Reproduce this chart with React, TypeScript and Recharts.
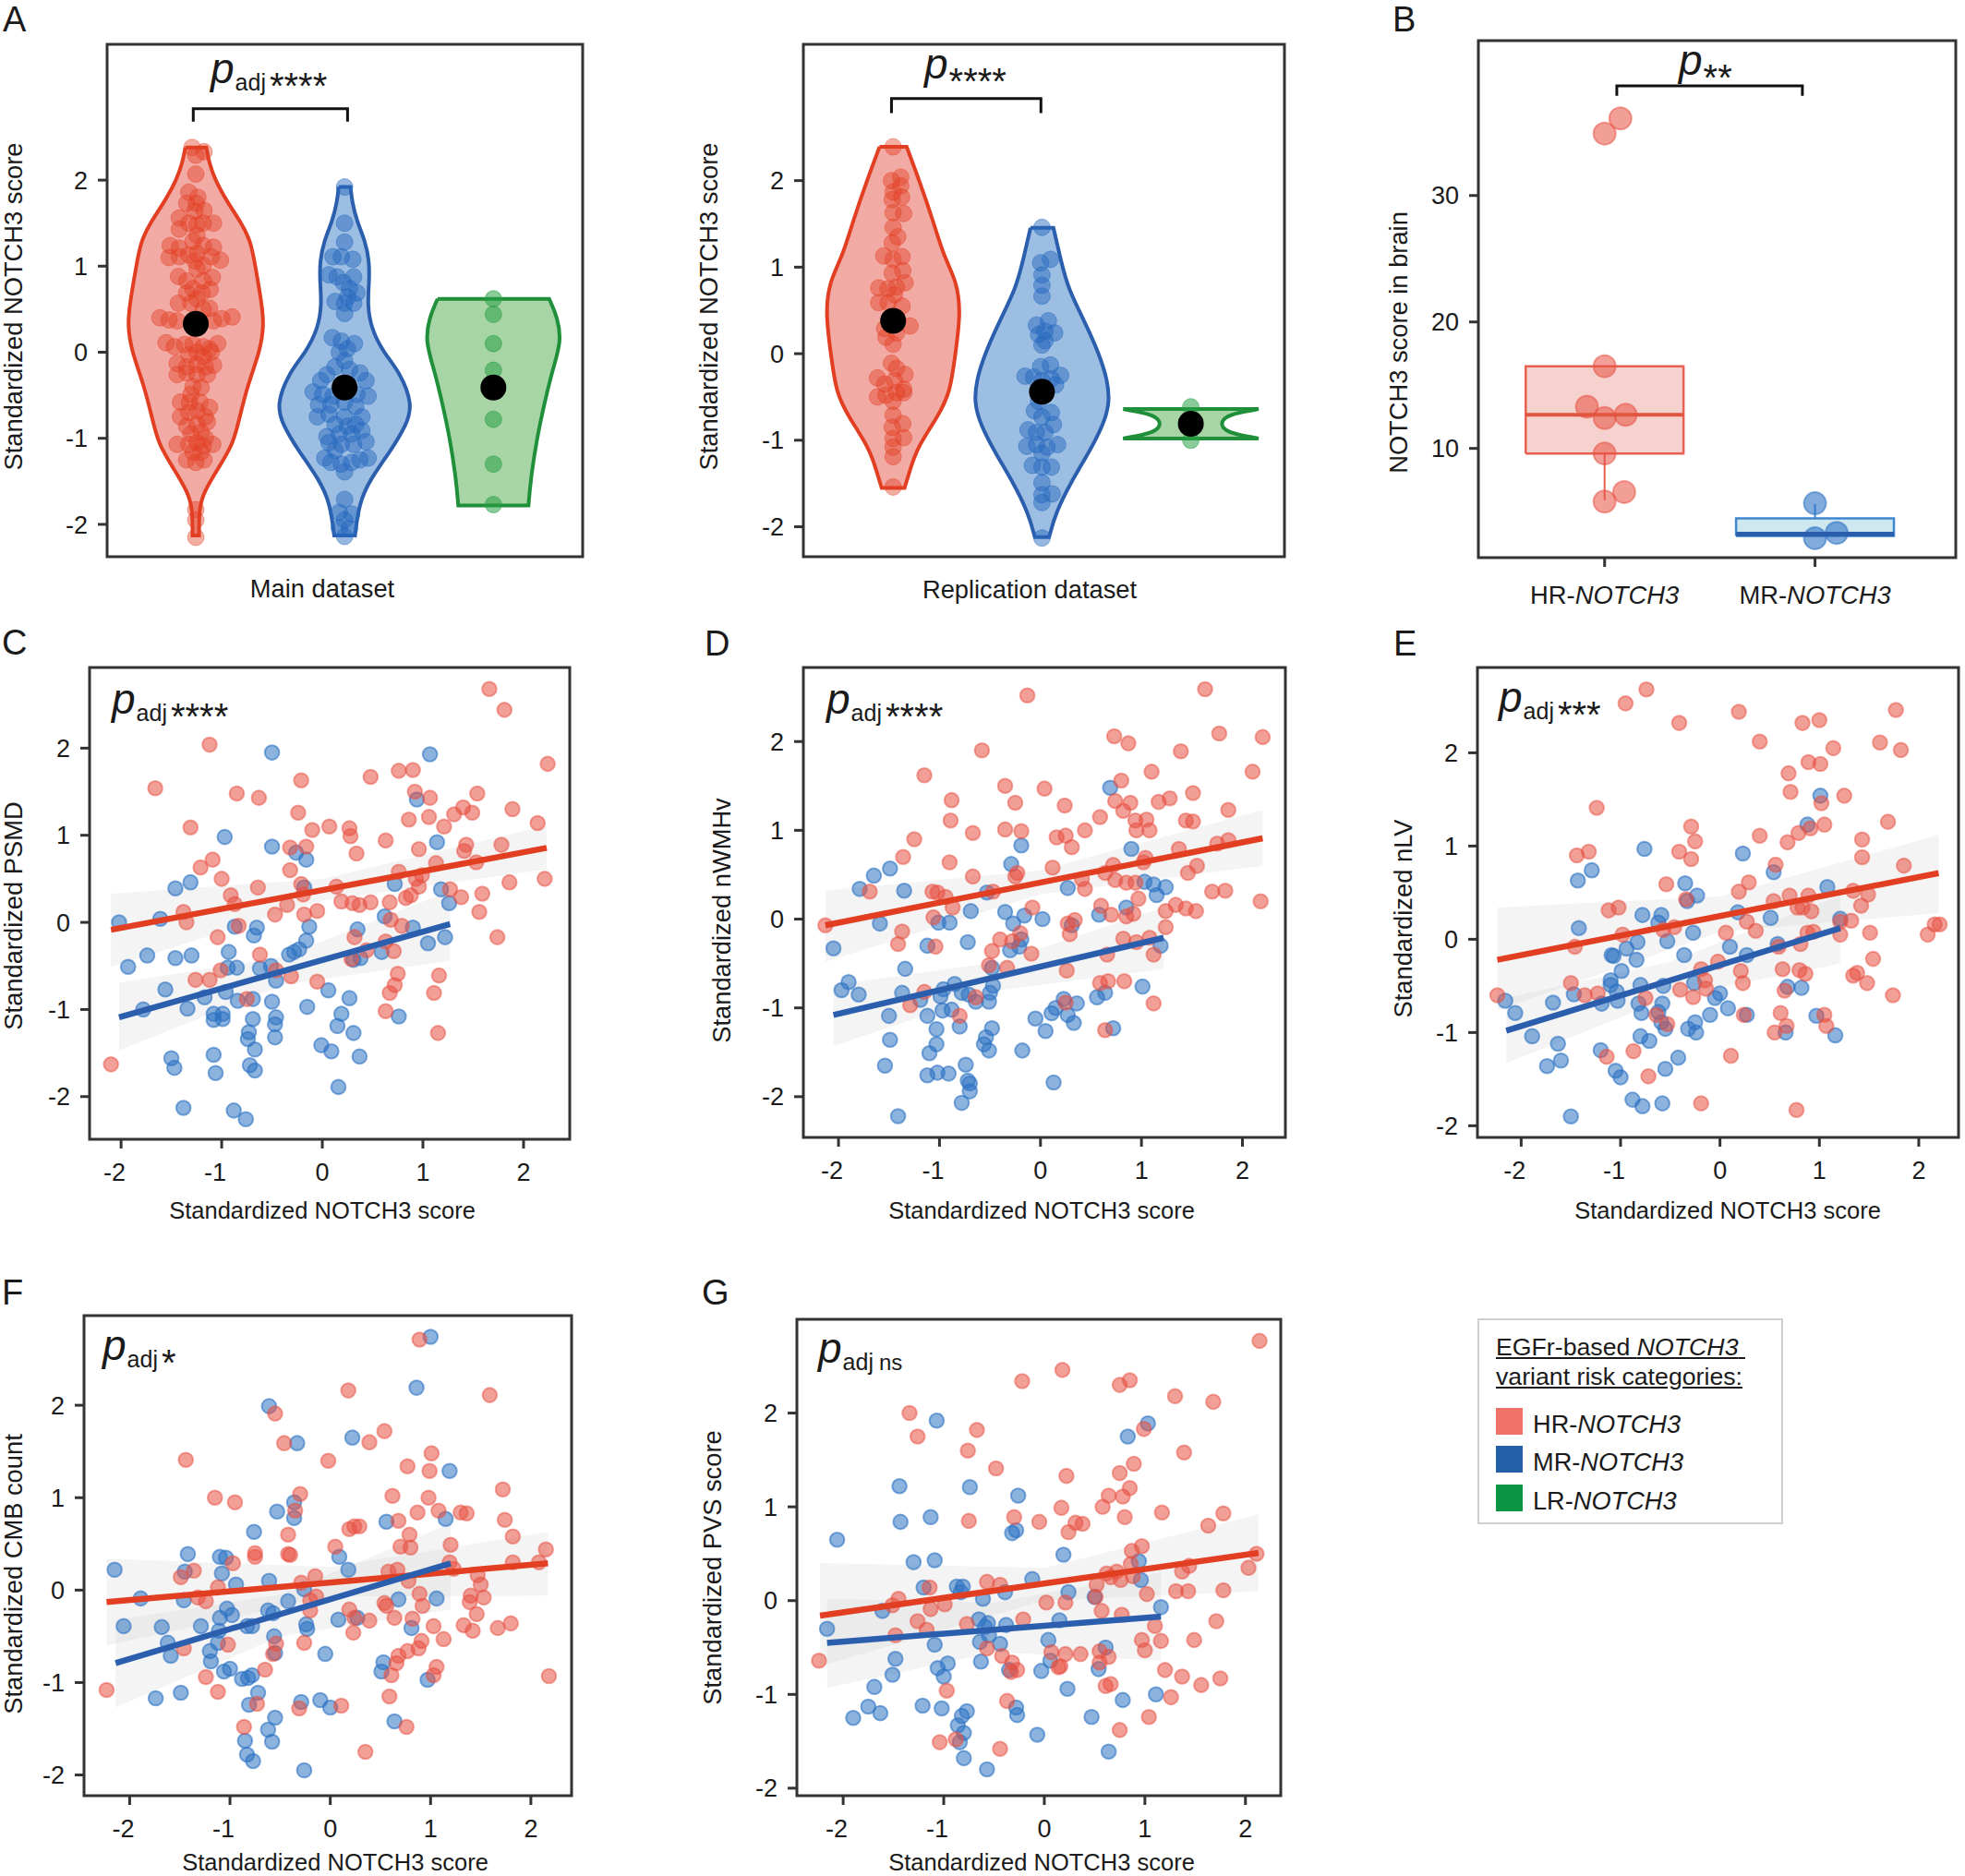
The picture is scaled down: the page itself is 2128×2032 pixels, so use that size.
import React from "react";
import { ScatterChart, Scatter, XAxis, YAxis, ReferenceArea } from "recharts";

type Row = number[];

const FONT = "'Liberation Sans', Arial, sans-serif";
const FRAME = "#333333";
const RED = "#e23e22";
const BLUE = "#2b5fae";
const GREEN = "#1f8f3a";
const AXIS_W = 70;
const AXIS_H = 60;

const zTicks = [-2, -1, 0, 1, 2];
const brainTicks = [10, 20, 30];
const riskCategories = ["HR-", "MR-", "LR-"];
const riskColors = ["#ef7268", "#2460a8", "#0b9444"];
const geneName = "NOTCH3";

// panel A, main dataset: [offset from violin centre, score]
const mainHrDots: Row[] = [
  [-.025,2.38],[.055,2.33],[0,2.29],[0,2.07],[-.047,1.86],[.014,1.8],[-.061,1.73],[.003,1.73],[.055,1.65],[-.006,1.64],
  [-.111,1.56],[.119,1.5],[.05,1.5],[-.111,1.43],[-.047,1.5],[.008,1.48],[.008,1.36],[-.019,1.29],[-.172,1.24],[-.111,1.21],
  [.119,1.22],[.05,1.24],[-.18,1.1],[-.111,1.11],[-.047,1.13],[.008,1.15],[.105,1.11],[.166,1.07],[-.006,1.06],[.05,1.01],
  [.008,.97],[-.117,.88],[.111,.87],[-.061,.83],[.05,.83],[.097,.73],[-.019,.74],[.042,.69],[-.061,.69],[.008,.62],
  [-.117,.57],[-.033,.57],[.092,.51],[.05,.5],[-.241,.4],[-.18,.375],[-.125,.365],[.244,.41],[.175,.39],[.119,.365],
  [-.2,.11],[-.144,.065],[-.075,.09],[-.019,.09],[.05,.065],[.092,.04],[.147,.1],[.008,0],[.05,-.05],[-.047,-.03],
  [.105,0],[-.125,-.13],[-.061,-.17],[.008,-.14],[.064,-.17],[.119,-.15],[-.125,-.26],[-.061,-.24],[.008,-.26],[.078,-.26],
  [.036,-.41],[-.019,-.4],[-.033,-.49],[-.103,-.58],[-.042,-.58],[.028,-.58],[.092,-.64],[-.103,-.75],[-.047,-.7],[.008,-.68],
  [.064,-.75],[-.061,-.86],[.008,-.84],[.078,-.81],[-.033,-.95],[.036,-.93],[.064,-1],[-.125,-1.07],[-.047,-1.07],[.008,-1.05],
  [.114,-1.07],[.05,-1.09],[-.061,-1.25],[0,-1.28],[.055,-1.25],[-.019,-1.16],[.036,-1.16],[0,-1.83],[0,-1.95],[0,-2.15],
];
const mainMrDots: Row[] = [
  [0,1.92],[0,1.5],[0,1.28],[-.078,1.11],[-.022,1.11],[.055,1.08],[-.105,.9],[-.05,.875],[.061,.875],[-.008,.81],
  [.033,.74],[.083,.69],[.019,.64],[-.064,.59],[0,.57],[.061,.57],[0,.45],[-.083,.17],[-.022,.13],[.066,.1],
  [.019,.04],[-.036,0],[0,-.1],[-.064,-.17],[.033,-.2],[.103,-.24],[-.119,-.26],[-.161,-.33],[.144,-.33],[-.211,-.46],
  [-.147,-.49],[-.078,-.51],[.083,-.49],[.158,-.51],[-.175,-.61],[-.092,-.61],[0,-.58],[.075,-.63],[-.183,-.75],[-.105,-.72],
  [0,-.75],[.116,-.75],[-.064,-.84],[.019,-.86],[.075,-.84],[-.119,-.98],[-.036,-.95],[.047,-.95],[.116,-.91],[-.105,-1.05],
  [-.022,-1.07],[.061,-1.07],[.144,-1.04],[-.064,-1.14],[-.133,-1.23],[-.092,-1.28],[-.022,-1.3],[.047,-1.28],[.158,-1.23],[.103,-1.25],
  [0,-1.39],[0,-1.71],[-.036,-1.86],[.047,-1.88],[0,-1.95],[-.036,-2.04],[.033,-2.05],[0,-2.14],
];
const mainLrDots: Row[] = [[0,.62],[0,.44],[0,.1],[0,-.21],[0,-.78],[0,-1.3],[0,-1.77]];
const mainMeans = [0.33, -0.41, -0.41];
const mainHrProfile: Row[] = [[2.38,.07],[2.2,.09],[2,.13],[1.75,.21],[1.52,.3],[1.29,.37],[1,.4],[.6,.44],[.32,.46],[0,.43],[-.37,.35],[-.79,.29],[-1.07,.25],[-1.35,.15],[-1.62,.055],[-1.81,.022],[-2.13,.022]];
const mainMrProfile: Row[] = [[1.92,.04],[1.75,.05],[1.52,.083],[1.29,.139],[1.06,.166],[.83,.166],[.55,.153],[.27,.18],[0,.26],[-.24,.375],[-.61,.458],[-.84,.416],[-1.12,.32],[-1.49,.166],[-1.76,.097],[-2.13,.07]];
const mainLrProfile: Row[] = [[.62,.375],[.41,.43],[.13,.458],[-.19,.4],[-.56,.347],[-1.02,.29],[-1.49,.25],[-1.78,.236]];

// panel A, replication dataset
const replHrDots: Row[] = [
  [0,2.39],[.051,2.04],[-.011,2],[.051,1.94],[0,1.87],[.057,1.81],[-.006,1.78],[0,1.63],[.071,1.62],[0,1.46],
  [.031,1.35],[-.006,1.28],[-.063,1.13],[.06,1.12],[0,1.09],[.065,.96],[-.006,.93],[.08,.82],[-.097,.76],[-.034,.75],
  [.023,.77],[.009,.68],[-.097,.59],[-.034,.59],[.06,.55],[.114,.32],[-.057,.29],[.023,.24],[-.048,.19],[0,.11],
  [-.011,-.11],[.023,-.17],[.08,-.24],[-.105,-.28],[-.057,-.35],[.009,-.31],[.071,-.41],[-.105,-.5],[-.048,-.48],[.023,-.45],
  [.071,-.45],[0,-.55],[0,-.71],[.065,-.81],[-.006,-.85],[.071,-.97],[0,-.98],[0,-1.08],[0,-1.19],[0,-1.54],
];
const replMrDots: Row[] = [
  [0,1.46],[.057,1.09],[-.009,1.05],[0,.91],[0,.79],[0,.665],[.043,.38],[-.037,.33],[.085,.24],[.02,.26],
  [-.023,.22],[.02,.15],[0,.1],[.057,-.13],[-.009,-.15],[.125,-.25],[-.114,-.26],[-.057,-.27],[.063,-.29],[0,-.31],
  [.091,-.36],[-.023,-.55],[-.051,-.66],[.063,-.68],[0,-.73],[-.094,-.88],[.077,-.82],[-.037,-.91],[.02,-.91],[-.102,-1.07],
  [.105,-1.05],[-.037,-1.05],[.034,-1.08],[0,-1.15],[-.065,-1.29],[.063,-1.31],[0,-1.31],[0,-1.49],[.068,-1.62],[0,-1.63],
  [0,-1.72],[0,-2.13],
];
const replLrDots: Row[] = [[0,-.615],[0,-1]];
const replMeans = [0.38, -0.44, -0.81];
const replHrProfile: Row[] = [[2.39,.091],[2,.176],[1.53,.27],[1.12,.341],[.84,.427],[.47,.455],[0,.418],[-.45,.384],[-.73,.299],[-1.1,.156],[-1.38,.108],[-1.55,.077]];
const replMrProfile: Row[] = [[1.455,.077],[1.07,.128],[.75,.176],[.38,.284],[0,.384],[-.31,.441],[-.57,.455],[-.82,.413],[-1.15,.313],[-1.47,.199],[-1.84,.091],[-2.12,.048]];
const replLrProfile: Row[] = [[-.64,.455],[-.68,.32],[-.73,.23],[-.81,.2],[-.89,.23],[-.94,.32],[-.98,.455]];

// panel B
const brainHrDots: Row[] = [[1.075,36.1],[1,34.9],[1,16.5],[.916,13.3],[1,12.4],[1.1,12.66],[1,9.6],[1.093,6.55],[1,5.8]];
const brainMrDots: Row[] = [[2,5.66],[2.103,3.32],[2,2.9]];
const brainHrBox = { q1: 9.6, median: 12.66, q3: 16.5, low: 5.9, high: 9.6 };
const brainMrBox = { q1: 3.07, median: 3.23, q3: 4.46, low: 4.46, high: 5.6 };

// panel C
const psmdHr: Row[] = [
  [1.66,2.68],[1.81,2.44],[-1.12,2.04],[2.24,1.82],[-1.66,1.54],[.48,1.67],[.76,1.74],[.9,1.75],[-.21,1.63],[-.85,1.48],
  [-.63,1.43],[.92,1.5],[1.07,1.43],[1.54,1.48],[-.24,1.26],[1.4,1.32],[1.49,1.26],[1.89,1.3],[.86,1.18],[1.06,1.21],
  [1.31,1.24],[1.21,1.1],[2.14,1.14],[-1.31,1.09],[-.1,1.06],[.07,1.1],[.27,1.08],[.28,.99],[.63,.94],[-.32,.86],
  [-.16,.87],[.34,.79],[.96,.84],[1.43,.89],[1.41,.82],[1.78,.89],[-1.09,.72],[-1.21,.63],[-.32,.6],[1.13,.68],
  [1.53,.69],[.76,.58],[-1,.5],[.99,.54],[.93,.5],[1.86,.46],[2.21,.5],[-.64,.4],[-.21,.44],[.14,.41],
  [.96,.41],[1.27,.38],[1.59,.33],[-.91,.31],[-.19,.32],[1.38,.29],[.83,.28],[.88,.31],[.19,.24],[.3,.22],
  [.37,.2],[.48,.23],[.67,.23],[-.87,.21],[-.35,.2],[-1.38,.12],[-.47,.09],[-.18,.09],[-.05,.13],[1.56,.12],
  [-1.35,0],[.68,.03],[.79,-.04],[-.83,-.04],[1.74,-.17],[-1.04,-.17],[.32,-.17],[.63,-.22],[-.62,-.37],[.71,-.33],
  [.44,-.32],[.29,-.42],[-1.01,-.55],[-.46,-.55],[-1.26,-.66],[-1.12,-.66],[-.31,-.62],[-.05,-.68],[.75,-.59],[.72,-.72],
  [.67,-.81],[1.16,-.61],[1.11,-.81],[-.75,-.88],[.63,-1.02],[1.15,-1.27],[-2.1,-1.63],
];
const psmdMr: Row[] = [
  [-.5,1.95],[1.07,1.93],[.94,1.41],[-.97,.98],[-.5,.87],[1.14,.92],[-.26,.8],[-.16,.72],[-1.46,.39],[-1.31,.46],
  [-.18,.4],[.72,.44],[1.18,.38],[1.26,.22],[-2.02,0],[-1.61,.04],[-.87,-.05],[-.65,-.06],[-.68,-.15],[-.13,-.05],
  [-.16,-.21],[.35,-.08],[.62,.07],[.9,-.06],[1.05,-.24],[1.22,-.17],[-.23,-.31],[-.28,-.34],[-.33,-.37],[-.93,-.34],
  [.59,-.34],[.38,-.41],[.31,-.43],[-1.74,-.38],[-1.93,-.51],[-1.46,-.41],[-1.3,-.38],[-.94,-.52],[-.85,-.52],[-.62,-.53],
  [-.51,-.5],[-.46,-.67],[-1.56,-.77],[-.96,-.8],[-1.17,-.86],[-.84,-.9],[-.69,-.88],[-.5,-.91],[.06,-.78],[.27,-.87],
  [-1.78,-1],[-1.34,-.99],[-.15,-.97],[.19,-1.05],[.76,-1.08],[-1.08,-1.05],[-.99,-1.05],[-1.08,-1.12],[-.99,-1.11],[-.69,-1.11],
  [-.46,-1.09],[-.47,-1.17],[.15,-1.19],[-.73,-1.26],[.31,-1.27],[-.74,-1.34],[-.47,-1.32],[-.67,-1.46],[-.01,-1.41],[.09,-1.48],
  [-1.08,-1.52],[.37,-1.54],[-1.5,-1.56],[-1.47,-1.67],[-1.06,-1.73],[-.72,-1.64],[-.67,-1.7],[.16,-1.89],[-1.38,-2.13],[-.88,-2.16],
  [-.76,-2.26],
];
const psmdHrFit: Row[] = [[-2.1,-.085],[2.23,.855]];
const psmdMrFit: Row[] = [[-2.02,-1.09],[1.27,-.02]];
const psmdHrBand: Row[] = [[-2.1,-.51,.33],[0,.25,.5],[2.23,.61,1.11]];
const psmdMrBand: Row[] = [[-2.02,-1.47,-.69],[-.4,-.72,-.4],[1.27,-.44,.36]];

// panel D
const wmhHr: Row[] = [
  [1.63,2.59],[-.13,2.52],[.73,2.06],[.87,1.98],[1.77,2.09],[2.2,2.05],[-.58,1.9],[1.39,1.89],[-1.15,1.62],[1.1,1.66],
  [2.1,1.66],[.8,1.56],[-.35,1.5],[.04,1.47],[1.51,1.42],[-.88,1.34],[-.25,1.31],[.24,1.28],[.74,1.33],[.89,1.31],
  [1.17,1.32],[1.28,1.36],[.82,1.22],[1.86,1.23],[.59,1.15],[-.89,1.11],[.94,1.11],[1.05,1.12],[1.44,1.11],[1.51,1.1],
  [-.35,1.01],[-.19,.99],[-.67,.97],[.44,1],[.95,1],[1.08,1],[.16,.92],[.25,.94],[.31,.81],[-1.25,.9],
  [1.37,.79],[1.75,.85],[1.86,.89],[-1.36,.7],[1.04,.69],[1.02,.64],[-.9,.64],[.72,.61],[1.55,.6],[.12,.58],
  [-.23,.52],[-.25,.48],[.64,.52],[1.46,.52],[-.67,.48],[.41,.45],[.74,.44],[.85,.41],[.94,.41],[.44,.34],
  [-1.69,.31],[-1.07,.31],[-1.02,.3],[-.47,.31],[1.7,.31],[1.83,.32],[-.94,.25],[.97,.23],[2.18,.2],[-.87,.13],
  [-.08,.13],[.6,.15],[1.34,.16],[1.44,.12],[1.54,.09],[1.24,.09],[.7,.05],[.85,.03],[.92,.06],[-1.06,.02],
  [.34,-.01],[.27,-.05],[-2.13,-.07],[1.24,-.09],[.29,-.17],[-1.37,-.14],[-.4,-.23],[-.2,-.16],[-.28,-.25],[.82,-.22],
  [.95,-.26],[1.08,-.21],[-1.41,-.28],[-1.04,-.31],[-.48,-.36],[-.09,-.39],[.66,-.4],[1.12,-.4],[-.51,-.52],[-.33,-.55],
  [.26,-.58],[.59,-.72],[.67,-.7],[.83,-.7],[-1.15,-.82],[-.64,-.88],[-1.29,-.97],[.25,-.94],[1.12,-.95],[-.8,-1.09],
  [.64,-1.25],
];
const wmhMr: Row[] = [
  [.69,1.48],[-.19,.83],[.9,.79],[-1.49,.57],[-.29,.62],[-1.65,.49],[-1.79,.34],[-1.35,.32],[-.53,.3],[.27,.35],
  [1.03,.42],[1.12,.39],[1.24,.36],[1.15,.27],[-.69,.09],[-.35,.08],[-.16,.04],[.02,0],[.58,.05],[.85,.13],
  [-1.59,-.05],[-1.01,-.04],[-.9,-.04],[-.27,-.05],[.31,-.07],[-2.05,-.33],[-1.12,-.3],[-.72,-.26],[-.19,-.23],[-.21,-.31],
  [-.3,-.35],[1.19,-.3],[-1.34,-.56],[-.48,-.55],[-1.9,-.71],[-1.97,-.8],[-1.8,-.85],[-1.37,-.83],[-.85,-.73],[-.96,-.79],
  [-.99,-.87],[-.78,-.83],[-.71,-.85],[-.47,-.75],[-.5,-.83],[-.51,-.93],[-1.19,-.91],[-.64,-.93],[.23,-.9],[.36,-.95],
  [.15,-1],[.11,-1.06],[1.01,-.76],[.64,-.83],[.56,-.88],[-1.5,-1.09],[-1.12,-1.09],[-.97,-1.03],[-.88,-1.02],[.27,-1.08],
  [-.05,-1.12],[.33,-1.17],[-.8,-1.21],[-1.03,-1.24],[-.48,-1.23],[.05,-1.26],[.72,-1.23],[-.54,-1.33],[-1.49,-1.36],[-.56,-1.41],
  [-1.03,-1.41],[-1.1,-1.51],[-.51,-1.48],[-.18,-1.48],[-1.54,-1.65],[-.74,-1.64],[-1.12,-1.76],[-1.02,-1.73],[-.91,-1.74],[-.72,-1.82],
  [-.7,-1.85],[-.7,-1.94],[.13,-1.84],[-.78,-2.07],[-1.41,-2.22],
];
const wmhHrFit: Row[] = [[-2.13,-.07],[2.2,.91]];
const wmhMrFit: Row[] = [[-2.05,-1.08],[1.22,-.21]];
const wmhHrBand: Row[] = [[-2.13,-.48,.32],[0,.28,.55],[2.2,.6,1.23]];
const wmhMrBand: Row[] = [[-2.05,-1.43,-.74],[-.4,-.8,-.48],[1.22,-.56,.13]];

// panel E
const lvHr: Row[] = [
  [-.74,2.68],[-.95,2.53],[-.41,2.32],[.19,2.44],[.83,2.32],[1,2.35],[1.77,2.46],[.4,2.12],[1.14,2.05],[1.61,2.11],
  [1.82,2.03],[.89,1.9],[1.01,1.88],[.69,1.78],[.71,1.58],[1.25,1.54],[-1.24,1.41],[1.02,1.46],[1.69,1.26],[-.29,1.21],
  [.4,1.11],[1.05,1.23],[.91,1.19],[.79,1.14],[.68,1.04],[-.25,1.05],[1.43,1.07],[-1.32,.94],[-1.44,.9],[-.41,.94],
  [-.29,.86],[1.43,.88],[.56,.8],[1.85,.79],[-.54,.59],[.29,.61],[.19,.51],[1.34,.52],[1.49,.48],[-.34,.43],
  [.54,.41],[.7,.47],[.89,.47],[.78,.34],[.83,.34],[.92,.3],[1.42,.36],[-1.12,.31],[-1.02,.34],[.27,.19],
  [.36,.09],[1.32,.2],[-.46,.13],[-.57,.1],[-.98,.05],[.06,.07],[1.21,.05],[.88,.07],[.94,.08],[1.51,.07],
  [2.09,.05],[2.16,.16],[2.21,.16],[-1.46,-.08],[.59,-.08],[.81,-.05],[1.21,.19],[1.54,-.21],[-.02,-.24],[-.19,-.32],
  [.63,-.32],[.21,-.34],[.8,-.33],[.86,-.37],[-.15,-.44],[1.34,-.39],[1.38,-.36],[.23,-.47],[-1.5,-.47],[1.48,-.47],
  [-.4,-.54],[-.14,-.53],[.65,-.55],[-1.36,-.6],[-1.23,-.58],[-2.24,-.6],[-.27,-.62],[-.75,-.63],[1.74,-.6],[-.64,-.81],
  [.24,-.81],[.61,-.79],[1.05,-.81],[-.53,-.91],[.67,-.93],[.55,-1],[1.07,-.93],[-.87,-1.2],[.11,-1.25],[-1.14,-1.26],
  [-.72,-1.47],[-.19,-1.76],[.77,-1.83],
];
const lvMr: Row[] = [
  [1.01,1.54],[.88,1.23],[-.76,.97],[.23,.92],[-1.29,.74],[-1.43,.63],[.54,.72],[-.35,.6],[1.08,.56],[-.23,.47],
  [-.33,.41],[-.78,.26],[-.59,.26],[-.62,.18],[.18,.29],[.51,.23],[1.21,.22],[-1.42,.12],[-.27,.07],[-.83,-.03],
  [-.53,-.02],[-.94,-.1],[-1.09,-.17],[-1.07,-.18],[-.84,-.22],[-.36,-.17],[.1,-.08],[.27,-.17],[.58,-.05],[-.99,-.34],
  [-1.1,-.44],[-1.1,-.49],[-.8,-.49],[-.57,-.5],[-.26,-.47],[.68,-.51],[.82,-.52],[-1.47,-.59],[-1.04,-.56],[-1.03,-.66],
  [-1.19,-.69],[-1.68,-.68],[-2.16,-.66],[-2.06,-.79],[-.82,-.69],[-.58,-.69],[-.62,-.78],[-.79,-.79],[0,-.58],[-.05,-.63],
  [.08,-.74],[-.1,-.81],[.27,-.81],[.97,-.82],[-.59,-.89],[-.55,-.96],[-.32,-.96],[-.25,-.89],[-.24,-1],[.66,-1],
  [1.16,-1.03],[-1.89,-1.04],[-.8,-1.04],[-.71,-1.09],[-1.63,-1.12],[-1.2,-1.19],[-1.6,-1.3],[-1.74,-1.36],[-.42,-1.27],[-1.05,-1.41],
  [-1,-1.48],[-.55,-1.39],[-.88,-1.72],[-.78,-1.79],[-.58,-1.76],[-1.5,-1.9],
];
const lvHrFit: Row[] = [[-2.24,-.22],[2.2,.71]];
const lvMrFit: Row[] = [[-2.15,-.98],[1.21,.12]];
const lvHrBand: Row[] = [[-2.24,-.76,.34],[0,.08,.46],[2.2,.28,1.12]];
const lvMrBand: Row[] = [[-2.15,-1.33,-.63],[-.5,-.62,-.24],[1.21,-.26,.47]];

// panel F
const cmbHr: Row[] = [
  [.89,2.71],[.18,2.16],[1.59,2.11],[-.55,1.91],[.54,1.72],[.39,1.6],[-.46,1.59],[1.01,1.48],[-1.44,1.41],[-.02,1.4],
  [.77,1.34],[.99,1.29],[1.72,1.09],[-.3,1.04],[.62,1.02],[-1.15,1],[.98,1],[-.95,.95],[.87,.84],[1.08,.86],
  [-.35,.86],[1.3,.84],[1.36,.83],[1.74,.76],[.68,.75],[.19,.66],[.24,.69],[.29,.69],[-.42,.6],[.79,.6],
  [1.82,.58],[.05,.47],[.7,.47],[.8,.46],[1.2,.49],[2.15,.44],[-.75,.4],[-.75,.36],[-.42,.39],[-.4,.38],
  [-.97,.29],[1.19,.3],[1.82,.3],[2.08,.3],[1.23,.23],[.58,.2],[.67,.22],[-1.36,.21],[-1.49,.14],[-.29,.08],
  [-.15,.15],[-1.12,.03],[1.47,.16],[1.5,.06],[.78,.1],[-1.32,-.08],[-1.24,-.12],[-.14,-.07],[-.2,-.11],[.89,-.04],
  [1.4,-.06],[1.53,-.08],[.54,-.14],[.56,-.17],[1.39,-.13],[.92,-.17],[-.2,-.22],[.19,-.21],[.24,-.3],[.39,-.33],
  [.64,-.3],[.82,-.31],[1.46,-.26],[1.33,-.38],[1.42,-.44],[1.8,-.36],[1.67,-.41],[1.03,-.39],[.23,-.46],[1.13,-.53],
  [.91,-.55],[-.26,-.57],[-.54,-.58],[-1.02,-.59],[-1.46,-.63],[.88,-.63],[.77,-.66],[.68,-.71],[.66,-.79],[-.57,-.69],
  [-.65,-.86],[1.06,-.83],[1.03,-.92],[.61,-.92],[-1.24,-.94],[2.18,-.93],[-2.23,-1.08],[-1.12,-1.1],[.59,-1.15],[-.73,-1.23],
  [.11,-1.25],[-.31,-1.28],[-.86,-1.48],[.76,-1.48],[.35,-1.75],
];
const cmbMr: Row[] = [
  [1,2.74],[.86,2.19],[-.61,1.99],[.22,1.65],[-.33,1.59],[1.19,1.29],[-.36,.95],[-.53,.85],[-.36,.78],[.56,.74],
  [1.15,.77],[-.76,.63],[-1.42,.39],[-1.1,.36],[-1.04,.35],[.09,.36],[-2.15,.22],[-1.45,.2],[-1.08,.18],[.18,.22],
  [-.94,.06],[-.61,.1],[-.26,.01],[-1.89,-.09],[-1.46,-.11],[-.42,-.12],[.68,-.1],[1.06,-.09],[-1.03,-.2],[-.98,-.27],
  [-1.1,-.3],[-.62,-.22],[-.57,-.25],[.08,-.32],[.27,-.3],[-2.06,-.39],[-1.68,-.4],[-1.29,-.39],[-1.11,-.44],[-.83,-.39],
  [-.78,-.39],[-.24,-.37],[-.23,-.42],[.81,-.41],[-.56,-.5],[-1.62,-.57],[-1.12,-.57],[-1.59,-.71],[-1.2,-.66],[-.55,-.68],
  [-.05,-.69],[-1.19,-.77],[.53,-.78],[.51,-.88],[-1,-.85],[-1.06,-.88],[-.88,-.96],[-.82,-.95],[-.78,-.92],[.97,-.97],
  [-1.49,-1.11],[-1.74,-1.17],[-.72,-1.11],[-.81,-1.24],[-.29,-1.21],[-.1,-1.19],[0,-1.27],[-.55,-1.38],[-.62,-1.51],[.64,-1.42],
  [-.85,-1.63],[-.58,-1.64],[-.83,-1.78],[-.77,-1.85],[-.26,-1.95],
];
const cmbHrFit: Row[] = [[-2.23,-.13],[2.17,.29]];
const cmbMrFit: Row[] = [[-2.14,-.79],[1.2,.29]];
const cmbHrBand: Row[] = [[-2.23,-.6,.34],[0,-.07,.25],[2.17,-.06,.63]];
const cmbMrBand: Row[] = [[-2.14,-1.27,-.32],[-.5,-.5,-.05],[1.2,-.21,.72]];

// panel G
const pvsHr: Row[] = [
  [2.14,2.77],[.18,2.46],[-.22,2.34],[.75,2.3],[.85,2.35],[1.3,2.18],[1.68,2.12],[-1.34,2],[-1.26,1.75],[-.67,1.82],
  [.99,1.83],[-.76,1.6],[1.39,1.58],[.89,1.46],[-.48,1.41],[.22,1.33],[.75,1.36],[.85,1.2],[.64,1.12],[.78,1.11],
  [.58,1],[.17,.99],[1.17,.94],[1.78,.93],[-.3,.89],[.8,.89],[-.75,.85],[-.05,.84],[.31,.83],[.38,.82],
  [1.63,.8],[.24,.73],[.97,.58],[.87,.53],[2.11,.5],[2.03,.35],[.86,.39],[1.44,.37],[1.37,.31],[.62,.29],
  [.72,.31],[.66,.25],[.76,.22],[.88,.26],[-1.14,.14],[-.57,.2],[-.44,.17],[.52,.17],[1.02,.07],[1.31,.1],
  [1.43,.1],[1.78,.11],[-1.45,.02],[-1.51,-.05],[-1.13,-.09],[-.99,-.04],[.02,-.02],[.21,-.02],[.51,.04],[.57,-.11],
  [.77,-.15],[-1.26,-.22],[-1.17,-.31],[-.77,-.25],[-.21,-.2],[1.1,-.27],[1.71,-.22],[-1.48,-.37],[.97,-.42],[1.16,-.43],
  [1.49,-.42],[-.57,-.51],[1,-.53],[-.42,-.59],[.07,-.55],[.21,-.57],[.36,-.57],[.55,-.54],[.64,-.6],[.55,-.66],
  [-2.24,-.64],[-.32,-.66],[-.27,-.74],[-.33,-.76],[.16,-.7],[.14,-.71],[1.2,-.74],[1.37,-.81],[1.75,-.83],[1.56,-.9],
  [.61,-.91],[.66,-.89],[-.97,-.96],[1.26,-1.03],[-.37,-1.07],[1.04,-1.24],[.75,-1.38],[-1.04,-1.51],[-.88,-1.48],[-.44,-1.58],
];
const pvsMr: Row[] = [
  [-1.07,1.92],[1.03,1.89],[.83,1.75],[-1.44,1.22],[-.74,1.21],[-.26,1.12],[-1.43,.84],[-1.13,.89],[-.28,.75],[-.32,.72],
  [-2.06,.65],[.19,.49],[-1.09,.43],[-1.3,.41],[.94,.42],[.96,.22],[-.12,.23],[-1.2,.14],[-.87,.15],[-.81,.15],
  [-.83,.09],[-.39,.09],[-.61,.02],[.24,.09],[.5,.04],[-1.61,-.11],[1.16,-.07],[-.65,-.2],[-.56,-.24],[-.38,-.26],
  [.15,-.21],[-2.16,-.3],[-.59,-.28],[-.55,-.37],[-1.09,-.47],[-.64,-.44],[-.44,-.46],[.04,-.42],[.61,-.5],[-1.48,-.62],
  [-.96,-.67],[-1.06,-.72],[-1,-.81],[-.63,-.65],[-.35,-.74],[-.03,-.75],[.06,-.64],[.54,-.73],[-1.51,-.79],[-1.69,-.92],
  [.23,-.94],[1.11,-1],[.78,-1.06],[-1.75,-1.13],[-1.63,-1.2],[-1.21,-1.12],[-1.02,-1.15],[-1.9,-1.25],[-.28,-1.14],[-.27,-1.22],
  [-.77,-1.18],[-.82,-1.23],[.47,-1.24],[-.86,-1.33],[-.8,-1.41],[-.07,-1.43],[-.84,-1.51],[-.8,-1.68],[.64,-1.61],[-.57,-1.8],
];
const pvsHrFit: Row[] = [[-2.23,-.16],[2.13,.51]];
const pvsMrFit: Row[] = [[-2.16,-.45],[1.16,-.17]];
const pvsHrBand: Row[] = [[-2.23,-.7,.4],[0,0,.35],[2.13,.1,.92]];
const pvsMrBand: Row[] = [[-2.16,-.93,.02],[-.5,-.55,-.02],[1.16,-.64,.3]];

const toPoints = (rows: Row[]) => rows.map(([x, y]) => ({ x, y }));
const noDot = () => <g />;

const dot = (r: number, fill: string, stroke = "none", sw = 0) => (p: any) =>
  <circle cx={p.cx} cy={p.cy} r={r} fill={fill} stroke={stroke} strokeWidth={sw} />;

// a closed outline drawn through Scatter's connecting line
const polygon = (key: string, points: any[], line: any, joint = "linear") => (
  <Scatter key={key} data={points} shape={noDot} line={line} lineJointType={joint as any} isAnimationActive={false} />
);

const bandOutline = (rows: Row[]) => [
  ...rows.map(([x, lo]) => ({ x, y: lo })),
  ...[...rows].reverse().map(([x, , hi]) => ({ x, y: hi })),
  { x: rows[0][0], y: rows[0][1] },
];

// tripled corner points keep the flat violin ends sharp with a basis curve
const violinOutline = (centre: number, profile: Row[]) => {
  const right = profile.map(([y, w]) => ({ x: centre + w, y }));
  const left = [...profile].reverse().map(([y, w]) => ({ x: centre - w, y }));
  const t = (p: any) => [p, p, p];
  return [
    ...t(left[left.length - 1]),
    ...t(right[0]),
    ...right.slice(1, -1),
    ...t(right[right.length - 1]),
    ...t(left[0]),
    ...left.slice(1, -1),
    ...t(left[left.length - 1]),
  ];
};

const boxOutline = (centre: number, half: number, q1: number, q3: number) => [
  { x: centre - half, y: q1 },
  { x: centre + half, y: q1 },
  { x: centre + half, y: q3 },
  { x: centre - half, y: q3 },
  { x: centre - half, y: q1 },
];

const frameArea = (xd: number[], yd: number[]) => (
  <ReferenceArea x1={xd[0]} x2={xd[1]} y1={yd[0]} y2={yd[1]} fill="none" stroke={FRAME} strokeWidth={3} ifOverflow="visible" />
);

const tickStyle = { fontSize: 27, fill: "#1a1a1a", fontFamily: FONT };
const tickLine = { stroke: FRAME, strokeWidth: 3 };

// negative labels sit a little left of their tick in the figure
const ZTick = ({ x, y, payload }: any) => (
  <text x={payload.value < 0 ? x - 7 : x} y={y + 31} textAnchor="middle" fontSize={27} fontFamily={FONT} fill="#1a1a1a">
    {payload.value}
  </text>
);

function Plot({ box, xd, yd, xTicks, yTicks, xTick, children }: any) {
  const [l, t, r, b] = box;
  return (
    <div style={{ position: "absolute", left: l - AXIS_W, top: t - 4 }}>
      <ScatterChart width={r - l + AXIS_W + 6} height={b - t + AXIS_H + 4} margin={{ top: 4, right: 6, left: 0, bottom: 0 }}>
        <XAxis
          type="number"
          dataKey="x"
          domain={xd}
          ticks={xTicks}
          allowDataOverflow
          height={AXIS_H}
          axisLine={false}
          tickSize={xTicks.length ? 10 : 0}
          tickLine={xTicks.length ? tickLine : false}
          tick={xTick || <ZTick />}
          tickMargin={4}
          interval={0}
        />
        <YAxis
          type="number"
          dataKey="y"
          domain={yd}
          ticks={yTicks}
          allowDataOverflow
          width={AXIS_W}
          axisLine={false}
          tickSize={10}
          tickLine={tickLine}
          tick={tickStyle}
          tickMargin={11}
          interval={0}
        />
        {children}
        {frameArea(xd, yd)}
      </ScatterChart>
    </div>
  );
}

const violinStyles = [
  { fill: "#f2aaa4", stroke: RED, dots: "rgba(226,62,34,0.42)" },
  { fill: "#9dbee3", stroke: BLUE, dots: "rgba(38,105,190,0.48)" },
  { fill: "#a8d5a6", stroke: GREEN, dots: "rgba(40,160,70,0.55)" },
];

function ViolinPlot({ box, xd, yd, profiles, dots, means, bracket }: any) {
  const items: any[] = [];
  profiles.forEach((profile: Row[], i: number) => {
    const s = violinStyles[i];
    items.push(polygon(`v${i}`, violinOutline(i + 1, profile), { fill: s.fill, stroke: s.stroke, strokeWidth: 4 }, "basis"));
  });
  dots.forEach((rows: Row[], i: number) => {
    const s = violinStyles[i];
    items.push(
      <Scatter key={`d${i}`} data={rows.map(([dx, y]) => ({ x: i + 1 + dx, y }))} shape={dot(9, s.dots, s.dots, 1)} isAnimationActive={false} />
    );
  });
  items.push(
    <Scatter key="means" data={means.map((y: number, i: number) => ({ x: i + 1, y }))} shape={dot(14, "#000")} isAnimationActive={false} />
  );
  items.push(polygon("bracket", toPoints(bracket), { stroke: "#111", strokeWidth: 3 }));
  return <Plot box={box} xd={xd} yd={yd} xTicks={[]} yTicks={zTicks}>{items}</Plot>;
}

function RegressionPlot({ box, xd, yd, hr, mr, hrFit, mrFit, hrBand, mrBand }: any) {
  return (
    <Plot box={box} xd={xd} yd={yd} xTicks={zTicks} yTicks={zTicks}>
      {polygon("bandHr", bandOutline(hrBand), { fill: "rgba(200,200,200,0.2)", stroke: "none" })}
      {polygon("bandMr", bandOutline(mrBand), { fill: "rgba(200,200,200,0.2)", stroke: "none" })}
      <Scatter data={toPoints(mr)} shape={dot(7.8, "rgba(45,115,195,0.55)", "rgba(45,115,195,0.6)", 2)} isAnimationActive={false} />
      <Scatter data={toPoints(hr)} shape={dot(7.8, "rgba(232,80,65,0.55)", "rgba(232,80,65,0.5)", 2)} isAnimationActive={false} />
      {polygon("fitHr", toPoints(hrFit), { stroke: RED, strokeWidth: 6.5 })}
      {polygon("fitMr", toPoints(mrFit), { stroke: BLUE, strokeWidth: 6.5 })}
    </Plot>
  );
}

const BrainTick = ({ x, y, payload }: any) => (
  <text x={x} y={y + 36} textAnchor="middle" fontSize={27.4} fontFamily={FONT} fill="#1a1a1a">
    {riskCategories[payload.value - 1]}
    <tspan fontStyle="italic">{geneName}</tspan>
  </text>
);

function BrainPlot({ box, xd, yd }: any) {
  const hrColor = "#e8604f";
  const mrColor = "#3f87cf";
  const half = 0.375;
  return (
    <Plot box={box} xd={xd} yd={yd} xTicks={[1, 2]} yTicks={brainTicks} xTick={<BrainTick />}>
      {polygon("boxHr", boxOutline(1, half, brainHrBox.q1, brainHrBox.q3), { fill: "#f6d2cf", stroke: hrColor, strokeWidth: 2.5 })}
      {polygon("boxMr", boxOutline(2, half, brainMrBox.q1, brainMrBox.q3), { fill: "#cfe7ef", stroke: mrColor, strokeWidth: 2.5 })}
      {polygon("whHr", [{ x: 1, y: brainHrBox.low }, { x: 1, y: brainHrBox.high }], { stroke: hrColor, strokeWidth: 2 })}
      {polygon("whMr", [{ x: 2, y: brainMrBox.low }, { x: 2, y: brainMrBox.high }], { stroke: mrColor, strokeWidth: 2 })}
      <Scatter data={toPoints(brainHrDots)} shape={dot(12, "rgba(232,80,65,0.55)", "rgba(232,80,65,0.5)", 2)} isAnimationActive={false} />
      <Scatter data={toPoints(brainMrDots)} shape={dot(12, "rgba(45,115,195,0.6)", "rgba(45,115,195,0.55)", 2)} isAnimationActive={false} />
      {polygon("medHr", [{ x: 1 - half, y: brainHrBox.median }, { x: 1 + half, y: brainHrBox.median }], { stroke: "#e2553f", strokeWidth: 4 })}
      {polygon("medMr", [{ x: 2 - half, y: brainMrBox.median }, { x: 2 + half, y: brainMrBox.median }], { stroke: BLUE, strokeWidth: 5 })}
      {polygon("bracket", [{ x: 1.058, y: 37.88 }, { x: 1.058, y: 38.67 }, { x: 1.94, y: 38.67 }, { x: 1.94, y: 37.88 }], { stroke: "#111", strokeWidth: 3 })}
    </Plot>
  );
}

const abs = (left: number, top: number, extra: any = {}): any => ({
  position: "absolute",
  left,
  top,
  fontFamily: FONT,
  color: "#1a1a1a",
  whiteSpace: "nowrap",
  lineHeight: 1,
  ...extra,
});

const PanelLetter = ({ text, x, y }: any) => <div style={abs(x, y, { fontSize: 38, lineHeight: "42px" })}>{text}</div>;

// x, y are the centre of the title
const XTitle = ({ text, x, y, size = 25.5 }: any) => (
  <div style={abs(x, y, { fontSize: size, transform: "translate(-50%,-50%)" })}>{text}</div>
);
const YTitle = ({ text, x, y, size = 27.3 }: any) => (
  <div style={abs(x, y, { fontSize: size, transform: "translate(-50%,-50%) rotate(-90deg)" })}>{text}</div>
);

const PValue = ({ x, y, adj, stars, ns }: any) => (
  <div style={abs(x, y, { fontSize: 46, display: "flex", alignItems: "baseline" })}>
    <i>p</i>
    {adj && <span style={{ fontSize: 25, position: "relative", top: 8, marginLeft: 1 }}>adj</span>}
    {ns && <span style={{ fontSize: 24, position: "relative", top: 8, marginLeft: 6 }}>ns</span>}
    {stars && (
      <span style={{ fontSize: 40, position: "relative", top: 17, marginLeft: adj ? 4 : 1 }}>{stars}</span>
    )}
  </div>
);

function RiskLegend() {
  const title = { textDecoration: "underline", fontSize: 26.7, position: "absolute", left: 18, whiteSpace: "nowrap" } as any;
  const tops = [95, 136, 178];
  return (
    <div style={abs(1600, 1428, { width: 331, height: 223, border: "2px solid #cfcfcf", boxSizing: "border-box" })}>
      <div style={{ ...title, top: 16 }}>
        EGFr-based <i>{geneName}</i>{"\u00a0"}
      </div>
      <div style={{ ...title, top: 48 }}>variant risk categories:</div>
      {riskCategories.map((c, i) => (
        <React.Fragment key={c}>
          <div style={{ position: "absolute", left: 18, top: tops[i], width: 29, height: 29, background: riskColors[i] }} />
          <div style={{ position: "absolute", left: 58, top: tops[i] + 4, fontSize: 27.2, whiteSpace: "nowrap" }}>
            {c}
            <i>{geneName}</i>
          </div>
        </React.Fragment>
      ))}
    </div>
  );
}

export default function App() {
  return (
    <div style={{ position: "fixed", left: 0, top: 0, width: 2128, height: 2032, background: "#fff", overflow: "hidden" }}>
      <ViolinPlot
        box={[116, 48, 631, 603]}
        xd={[0.404, 3.6]}
        yd={[-2.376, 3.578]}
        profiles={[mainHrProfile, mainMrProfile, mainLrProfile]}
        dots={[mainHrDots, mainMrDots, mainLrDots]}
        means={mainMeans}
        bracket={[[.983, 2.68], [.983, 2.83], [2.02, 2.83], [2.02, 2.68]]}
      />
      <ViolinPlot
        box={[870, 48, 1391, 603]}
        xd={[0.397, 3.629]}
        yd={[-2.346, 3.575]}
        profiles={[replHrProfile, replMrProfile, replLrProfile]}
        dots={[replHrDots, replMrDots, replLrDots]}
        means={replMeans}
        bracket={[[.989, 2.78], [.989, 2.947], [1.993, 2.947], [1.993, 2.78]]}
      />
      <BrainPlot box={[1601, 44, 2118, 604]} xd={[0.4, 2.669]} yd={[1.36, 42.25]} />
      <RegressionPlot box={[97, 723, 617, 1234]} xd={[-2.313, 2.459]} yd={[-2.49, 2.926]} hr={psmdHr} mr={psmdMr} hrFit={psmdHrFit} mrFit={psmdMrFit} hrBand={psmdHrBand} mrBand={psmdMrBand} />
      <RegressionPlot box={[870, 723, 1392, 1232]} xd={[-2.348, 2.425]} yd={[-2.459, 2.834]} hr={wmhHr} mr={wmhMr} hrFit={wmhHrFit} mrFit={wmhMrFit} hrBand={wmhHrBand} mrBand={wmhMrBand} />
      <RegressionPlot box={[1600, 723, 2121, 1232]} xd={[-2.44, 2.4]} yd={[-2.125, 2.915]} hr={lvHr} mr={lvMr} hrFit={lvHrFit} mrFit={lvMrFit} hrBand={lvHrBand} mrBand={lvMrBand} />
      <RegressionPlot box={[91, 1425, 619, 1945]} xd={[-2.455, 2.406]} yd={[-2.224, 2.97]} hr={cmbHr} mr={cmbMr} hrFit={cmbHrFit} mrFit={cmbMrFit} hrBand={cmbHrBand} mrBand={cmbMrBand} />
      <RegressionPlot box={[863, 1429, 1387, 1945]} xd={[-2.46, 2.351]} yd={[-2.08, 3.0]} hr={pvsHr} mr={pvsMr} hrFit={pvsHrFit} mrFit={pvsMrFit} hrBand={pvsHrBand} mrBand={pvsMrBand} />

      <PanelLetter text="A" x={3} y={0} />
      <PanelLetter text="B" x={1508} y={0} />
      <PanelLetter text="C" x={2} y={675} />
      <PanelLetter text="D" x={763} y={676} />
      <PanelLetter text="E" x={1509} y={676} />
      <PanelLetter text="F" x={2} y={1379} />
      <PanelLetter text="G" x={760} y={1379} />

      <PValue x={228} y={51} adj stars="****" />
      <PValue x={1001} y={46} stars="****" />
      <PValue x={1818} y={42} stars="**" />
      <PValue x={121} y={734} adj stars="****" />
      <PValue x={895} y={734} adj stars="****" />
      <PValue x={1623} y={732} adj stars="***" />
      <PValue x={111} y={1434} adj stars="*" />
      <PValue x={886} y={1437} adj ns />

      <XTitle text="Main dataset" x={349} y={638} size={27.3} />
      <XTitle text="Replication dataset" x={1115} y={639} size={27.3} />
      <XTitle text="Standardized NOTCH3 score" x={349} y={1312} />
      <XTitle text="Standardized NOTCH3 score" x={1128} y={1312} />
      <XTitle text="Standardized NOTCH3 score" x={1871} y={1312} />
      <XTitle text="Standardized NOTCH3 score" x={363} y={2018} />
      <XTitle text="Standardized NOTCH3 score" x={1128} y={2018} />

      <YTitle text="Standardized NOTCH3 score" x={15} y={332} />
      <YTitle text="Standardized NOTCH3 score" x={768} y={332} />
      <YTitle text="NOTCH3 score in brain" x={1515} y={371} />
      <YTitle text="Standardized PSMD" x={15} y={992} />
      <YTitle text="Standardized nWMHv" x={782} y={997} />
      <YTitle text="Standardized nLV" x={1520} y={995} />
      <YTitle text="Standardized CMB count" x={15} y={1705} />
      <YTitle text="Standardized PVS score" x={772} y={1698} />

      <RiskLegend />
    </div>
  );
}
